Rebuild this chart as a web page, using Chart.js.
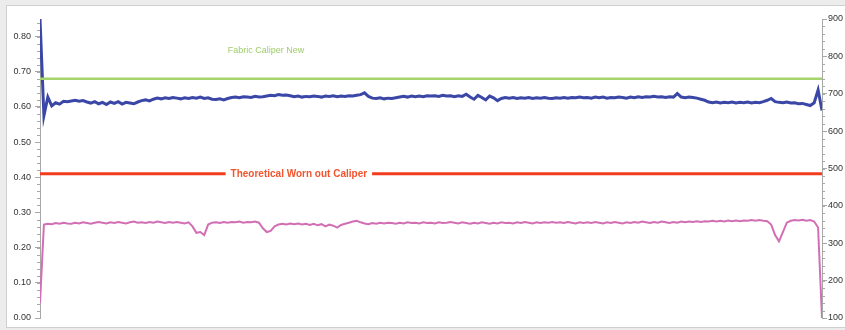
<!DOCTYPE html>
<html>
<head>
<meta charset="utf-8">
<script src="https://cdn.jsdelivr.net/npm/chart.js@4.4.1/dist/chart.umd.min.js"></script>
<style>
  html, body { margin: 0; padding: 0; background: #ececec; }
  #wrap { position: relative; width: 845px; height: 330px; overflow: hidden; }
  #panel { position: absolute; left: 6px; top: 5px; width: 860px; height: 321px; background: #fff; border: 1px solid #cfcfcf; }
  #c { position: absolute; left: 0; top: 0; }
</style>
</head>
<body>
<div id="wrap">
  <div id="panel"></div>
  <canvas id="c" width="845" height="330"></canvas>
</div>
<script>
// Sample positions along the fabric width (0..200)
const positionMax = 200;

// Measured caliper, left axis (mm)
const caliperValues = [
  0.850, 0.575, 0.628, 0.603, 0.612, 0.608, 0.616, 0.615, 0.617, 0.619,
  0.616, 0.618, 0.614, 0.611, 0.615, 0.609, 0.613, 0.607, 0.614, 0.610,
  0.615, 0.608, 0.613, 0.611, 0.609, 0.614, 0.618, 0.620, 0.617, 0.622,
  0.625, 0.623, 0.626, 0.624, 0.627, 0.625, 0.623, 0.626, 0.624, 0.627,
  0.625, 0.628, 0.624, 0.626, 0.622, 0.621, 0.623, 0.620, 0.624, 0.627,
  0.628, 0.626, 0.629, 0.628, 0.627, 0.630, 0.628, 0.629, 0.631, 0.633,
  0.632, 0.635, 0.633, 0.634, 0.632, 0.629, 0.631, 0.628, 0.630, 0.629,
  0.631, 0.630, 0.628, 0.631, 0.630, 0.632, 0.629, 0.631, 0.630, 0.632,
  0.631, 0.633, 0.635, 0.640, 0.630, 0.625, 0.624, 0.626, 0.623, 0.625,
  0.624, 0.626, 0.628, 0.630, 0.628, 0.631, 0.629, 0.631, 0.629, 0.632,
  0.631, 0.632, 0.630, 0.633, 0.631, 0.632, 0.629, 0.632, 0.630, 0.636,
  0.628, 0.622, 0.633, 0.627, 0.620, 0.631, 0.626, 0.618, 0.624, 0.627,
  0.625, 0.627, 0.624, 0.626, 0.625, 0.627, 0.624, 0.626, 0.625, 0.627,
  0.625, 0.624, 0.626, 0.625, 0.627, 0.625, 0.627, 0.626, 0.628, 0.626,
  0.627, 0.625, 0.628, 0.626, 0.628, 0.625, 0.627, 0.626, 0.628, 0.627,
  0.625, 0.628, 0.626, 0.629, 0.627, 0.629, 0.628, 0.630, 0.628, 0.629,
  0.627, 0.629, 0.628, 0.638, 0.628, 0.626, 0.628, 0.627, 0.625, 0.622,
  0.619, 0.614, 0.612, 0.614, 0.611, 0.613, 0.612, 0.614, 0.611, 0.613,
  0.612, 0.614, 0.611, 0.613, 0.612, 0.615, 0.619, 0.624, 0.615, 0.613,
  0.612, 0.614, 0.611, 0.612, 0.609, 0.610, 0.607, 0.604, 0.612, 0.648,
  0.590
];

// Second measured trace, right axis
const secondaryValues = [
  140, 350, 352, 351, 354, 352, 355, 353, 352, 355,
  353, 356, 354, 352, 355, 357, 355, 353, 356, 354,
  357, 355, 353, 356, 358, 355, 356, 354, 357, 355,
  358, 356, 354, 357, 355, 357, 355, 353, 356, 345,
  328, 330, 322, 350, 355, 356, 354, 357, 355, 357,
  356, 358, 355, 357, 356, 358, 355, 340, 330, 333,
  345, 350, 352, 350, 353, 351, 353, 350, 352, 349,
  352, 348, 351, 345, 350, 347, 342, 349, 352, 355,
  358, 360, 356, 353, 351, 354, 352, 355, 353, 355,
  354, 352, 355, 353, 356, 354, 355, 353, 356, 354,
  355, 353, 356, 354, 355, 357, 355, 353, 356, 354,
  352, 355, 353, 356, 354, 352, 355, 353, 356, 354,
  355, 353, 356, 354, 357, 355, 353, 356, 354, 356,
  355, 357, 355, 356, 354, 357, 355, 353, 356, 354,
  356, 354, 357, 355, 353, 356, 354, 357, 355, 353,
  356, 354, 357, 355, 358, 356, 354, 357, 355, 358,
  356, 354, 357, 355, 358, 356, 358, 357, 359, 357,
  359, 358, 360, 358, 360, 358, 361, 359, 361, 359,
  361, 360, 362, 360, 362, 360, 359, 350, 322, 305,
  330, 355, 360, 362, 361, 363, 360, 362, 358, 342,
  100
];

// Reference levels (left axis)
const caliperNew = 0.68;
const wornOutCaliper = 0.41;

// Axis ticks
const leftTicks = [0, 0.1, 0.2, 0.3, 0.4, 0.5, 0.6, 0.7, 0.8];
const rightTicks = [100, 200, 300, 400, 500, 600, 700, 800, 900];
const leftMinorStep = 0.02;
const rightMinorStep = 20;

// Annotation labels: [text, position, level]
const newLabel = ['Fabric Caliper New', 57.8, 0.76];
const wornLabel = ['Theoretical Worn out Caliper', 66.2, wornOutCaliper];

const toPoints = arr => arr.map((v, i) => ({ x: i, y: v }));
const flat = v => [{ x: 0, y: v }, { x: positionMax, y: v }];

const minorTicks = {
  id: 'minorTicks',
  afterDraw(chart) {
    const ctx = chart.ctx;
    ctx.save();
    ctx.strokeStyle = '#a8a8a8';
    ctx.lineWidth = 1;
    const yl = chart.scales.y, yr = chart.scales.y2;
    for (let v = 0; v <= yl.max + 1e-9; v += leftMinorStep) {
      const p = Math.round(yl.getPixelForValue(v)) + 0.5;
      ctx.beginPath(); ctx.moveTo(yl.right - 3, p); ctx.lineTo(yl.right, p); ctx.stroke();
    }
    for (let v = yr.min; v <= yr.max + 1e-9; v += rightMinorStep) {
      const p = Math.round(yr.getPixelForValue(v)) + 0.5;
      ctx.beginPath(); ctx.moveTo(yr.left, p); ctx.lineTo(yr.left + 3, p); ctx.stroke();
    }
    ctx.restore();
  }
};

const labels = {
  id: 'levelLabels',
  afterDatasetsDraw(chart) {
    const ctx = chart.ctx, xs = chart.scales.x, ys = chart.scales.y;
    ctx.save();
    ctx.textAlign = 'center';
    ctx.textBaseline = 'middle';

    ctx.font = '9px "Liberation Sans", Arial, sans-serif';
    ctx.fillStyle = '#9fcc6a';
    ctx.fillText(newLabel[0], xs.getPixelForValue(newLabel[1]), ys.getPixelForValue(newLabel[2]));

    ctx.font = 'bold 10px "Liberation Sans", Arial, sans-serif';
    const wx = xs.getPixelForValue(wornLabel[1]);
    const wy = ys.getPixelForValue(wornLabel[2]);
    const w = ctx.measureText(wornLabel[0]).width;
    ctx.fillStyle = '#ffffff';
    ctx.fillRect(wx - w / 2 - 5, wy - 6, w + 10, 12);
    ctx.fillStyle = '#f2552e';
    ctx.fillText(wornLabel[0], wx, wy);
    ctx.restore();
  }
};

const tickFont = { family: '"Liberation Sans", Arial, sans-serif', size: 9 };

new Chart(document.getElementById('c'), {
  type: 'line',
  data: {
    datasets: [
      { data: flat(caliperNew), yAxisID: 'y', borderColor: '#a6d46c', borderWidth: 2.5 },
      { data: flat(wornOutCaliper), yAxisID: 'y', borderColor: '#f23c1e', borderWidth: 3 },
      { data: toPoints(secondaryValues), yAxisID: 'y2', borderColor: '#d26fb4', borderWidth: 2 },
      { data: toPoints(caliperValues), yAxisID: 'y', borderColor: '#3a47a6', borderWidth: 3 }
    ]
  },
  options: {
    responsive: false,
    animation: false,
    events: [],
    layout: { padding: { top: 19, bottom: 12, left: 0, right: 0 } },
    elements: { point: { radius: 0 }, line: { tension: 0 } },
    plugins: { legend: { display: false }, tooltip: { enabled: false } },
    scales: {
      x: { type: 'linear', min: 0, max: positionMax, display: false },
      y: {
        position: 'left', min: 0, max: 0.85,
        afterBuildTicks: s => { s.ticks = leftTicks.map(v => ({ value: v })); },
        afterFit: s => { s.width = 40; },
        border: { color: '#a8a8a8' },
        grid: { drawOnChartArea: false, tickLength: 5, color: '#a8a8a8' },
        ticks: { font: tickFont, color: '#333', padding: 4, callback: v => Number(v).toFixed(2) }
      },
      y2: {
        position: 'right', min: 100, max: 900,
        afterBuildTicks: s => { s.ticks = rightTicks.map(v => ({ value: v })); },
        afterFit: s => { s.width = 23; },
        border: { color: '#a8a8a8' },
        grid: { drawOnChartArea: false, tickLength: 5, color: '#a8a8a8' },
        ticks: { font: tickFont, color: '#333', padding: 1 }
      }
    }
  },
  plugins: [minorTicks, labels]
});
</script>
</body>
</html>
